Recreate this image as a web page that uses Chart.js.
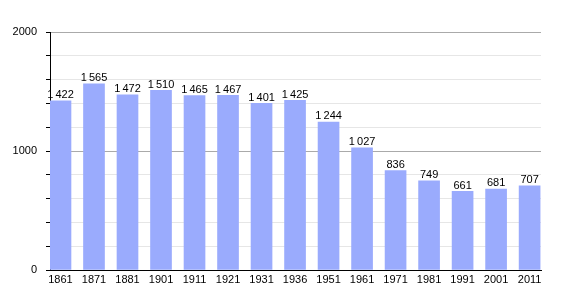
<!DOCTYPE html>
<html>
<head>
<meta charset="utf-8">
<script src="https://cdn.jsdelivr.net/npm/chart.js@4/dist/chart.umd.min.js"></script>
<style>
html, body { margin: 0; padding: 0; background: #fff; }
#wrap { width: 570px; height: 300px; }
</style>
</head>
<body>
<div id="wrap"><canvas id="chart"></canvas></div>
<script>
var years = ["1861", "1871", "1881", "1901", "1911", "1921", "1931", "1936", "1951", "1961", "1971", "1981", "1991", "2001", "2011"];
var population = [1422, 1565, 1472, 1510, 1465, 1467, 1401, 1425, 1244, 1027, 836, 749, 661, 681, 707];
var yMax = 2000;
var yStep = 200;

function fmt(v) {
	if (v >= 1000) {
		var rest = String(v % 1000);
		while (rest.length < 3) rest = "0" + rest;
		return Math.floor(v / 1000) + "\u2009" + rest;
	}
	return String(v);
}

var points = [];
for (var i = 0; i < population.length; i++) {
	points.push({ x: i, y: population[i] });
}

// labels over the bars
var valueLabels = {
	id: 'valueLabels',
	afterDatasetsDraw: function(chart) {
		var ctx = chart.ctx;
		var meta = chart.getDatasetMeta(0);
		ctx.save();
		ctx.font = '11px "Liberation Sans", Arial, sans-serif';
		ctx.fillStyle = '#000';
		ctx.textAlign = 'center';
		ctx.textBaseline = 'bottom';
		meta.data.forEach(function(bar, i) {
			ctx.fillText(fmt(population[i]), bar.x, bar.y);
		});
		ctx.restore();
	}
};

Chart.defaults.font.family = '"Liberation Sans", Arial, sans-serif';
Chart.defaults.font.size = 11;
Chart.defaults.color = '#000';

var context = document.getElementById('chart').getContext('2d');
var chart = new Chart(context, {
	type: 'bar',
	data: {
		datasets: [{
			data: points,
			backgroundColor: '#9aabfd',
			borderWidth: 0,
			barThickness: 21
		}]
	},
	options: {
		responsive: true,
		maintainAspectRatio: false,
		animation: false,
		layout: { padding: { top: 32, right: 29, bottom: 0, left: 0 } },
		plugins: {
			legend: { display: false },
			tooltip: { enabled: false }
		},
		scales: {
			x: {
				type: 'linear',
				offset: false,
				min: -0.313,
				max: 14.34,
				afterBuildTicks: function(scale) {
					scale.ticks = years.map(function(y, i) { return { value: i }; });
				},
				afterFit: function(scale) { scale.height = 30; },
				grid: { display: false, offset: false, drawTicks: false },
				border: { display: true, color: '#000', width: 1 },
				ticks: {
					autoSkip: false,
					maxRotation: 0,
					padding: 3,
					callback: function(v) { return years[v]; }
				}
			},
			y: {
				min: 0,
				max: yMax,
				afterFit: function(scale) { scale.width = 50; },
				border: { color: '#000', width: 1 },
				grid: {
					tickLength: 4,
					tickColor: '#000',
					color: function(c) {
						var v = c.tick.value;
						if (v === 0) return '#000';
						return v % 1000 === 0 ? '#aaaaaa' : '#e6e6e6';
					}
				},
				ticks: {
					stepSize: yStep,
					padding: 9,
					callback: function(v) { return v % 1000 === 0 ? v : ''; }
				}
			}
		}
	},
	plugins: [valueLabels]
});
</script>
</body>
</html>
